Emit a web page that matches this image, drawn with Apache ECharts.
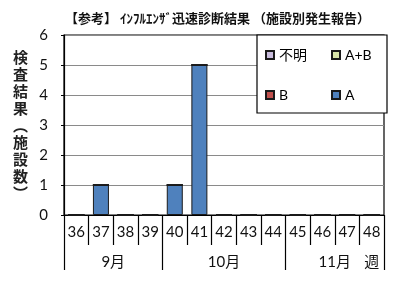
<!DOCTYPE html>
<html>
<head>
<meta charset="utf-8">
<script src="https://cdn.jsdelivr.net/npm/echarts@6/dist/echarts.min.js"></script>
<style>
  html, body { margin: 0; padding: 0; background: #fff; }
  #chart { width: 400px; height: 285px; }
</style>
</head>
<body>
<div id="chart"></div>
<script>
// Weekly rapid influenza test results (facilities reporting), weeks 36-48
const weeks = ['36', '37', '38', '39', '40', '41', '42', '43', '44', '45', '46', '47', '48'];
const unknownCounts = [0, 0, 0, 0, 0, 0, 0, 0, 0, 0, 0, 0, 0];
const abCounts      = [0, 0, 0, 0, 0, 0, 0, 0, 0, 0, 0, 0, 0];
const bCounts       = [0, 0, 0, 0, 0, 0, 0, 0, 0, 0, 0, 0, 0];
const aCounts       = [0, 1, 0, 0, 1, 5, 0, 0, 0, 0, 0, 0, 0];
const yTicks = [0, 1, 2, 3, 4, 5, 6];

// Month band under the week row: boundaries and label centres in week-slot units
const monthBoundaries = [0, 4, 9, 13];
const monthLabels = { 2: '9月', 6.5: '10月', 11: '11月', 12.5: '週' };

const FONT = 'Lato, "Noto Sans CJK JP", sans-serif';
const JP = '"Noto Sans CJK JP", sans-serif';

const chart = echarts.init(document.getElementById('chart'), null, { renderer: 'canvas' });

const barStyle = (color) => ({ color: color, borderColor: '#1a1a1a', borderWidth: 1 });

chart.setOption({
  animation: false,
  backgroundColor: '#fff',
  title: {
    text: '【参考】 ｲﾝﾌﾙｴﾝｻﾞ迅速診断結果 （施設別発生報告）',
    left: 60,
    top: 7,
    textStyle: { fontFamily: JP, fontSize: 13, fontWeight: 'bold', color: '#111' }
  },
  legend: {
    data: ['不明', 'A+B', 'B', 'A'],
    icon: 'rect',
    left: 257,
    top: 35,
    width: 110,
    itemGap: 22,
    itemWidth: 8,
    itemHeight: 8,
    padding: [11, 12, 9, 8],
    backgroundColor: '#fff',
    borderColor: '#000',
    borderWidth: 1.2,
    textStyle: { fontFamily: FONT, fontSize: 14, color: '#000', width: 30, lineHeight: 18, height: 18, overflow: 'none' }
  },
  grid: {
    left: 64, right: 16, top: 35, bottom: 70,
    show: true, borderColor: '#000', borderWidth: 1.2, backgroundColor: 'transparent'
  },
  xAxis: [
    {
      type: 'category',
      data: weeks,
      position: 'bottom',
      axisLine: { show: true, lineStyle: { color: '#000', width: 1.2 } },
      axisTick: { show: true, interval: 0, length: 30, lineStyle: { color: '#000', width: 1.2 } },
      axisLabel: { interval: 0, margin: 10, fontFamily: FONT, fontSize: 15, color: '#111' },
      splitLine: { show: false }
    },
    {
      type: 'value',
      min: 0,
      max: 13,
      position: 'bottom',
      offset: 30,
      axisLine: { show: false },
      axisTick: { show: true, customValues: monthBoundaries, length: 25, lineStyle: { color: '#000', width: 1.2 } },
      axisLabel: {
        customValues: Object.keys(monthLabels).map(Number),
        formatter: (v) => monthLabels[v] || '',
        margin: 10,
        fontFamily: FONT,
        fontSize: 15,
        color: '#111'
      },
      splitLine: { show: false }
    }
  ],
  yAxis: {
    type: 'value',
    min: yTicks[0],
    max: yTicks[yTicks.length - 1],
    interval: 1,
    name: '検\n査\n結\n果\n︵\n施\n設\n数\n︶',
    nameLocation: 'middle',
    nameRotate: 0,
    nameGap: 36,
    nameTextStyle: { fontFamily: JP, fontSize: 15, fontWeight: 'bold', color: '#222', lineHeight: 17, padding: [20, 0, 0, 0] },
    axisLine: { show: true, lineStyle: { color: '#000', width: 1.2 } },
    axisTick: { show: true, length: 3, lineStyle: { color: '#000' } },
    axisLabel: { margin: 16, fontFamily: FONT, fontSize: 15, color: '#111' },
    splitLine: { show: true, lineStyle: { color: '#8a8a8a', width: 1 } }
  },
  series: [
    { name: 'A', type: 'bar', stack: 'total', data: aCounts, barWidth: '65%', itemStyle: barStyle('#4F81BD') },
    { name: 'B', type: 'bar', stack: 'total', data: bCounts, barWidth: '65%', itemStyle: barStyle('#C0504D') },
    { name: 'A+B', type: 'bar', stack: 'total', data: abCounts, barWidth: '65%', itemStyle: barStyle('#D8E4A8') },
    { name: '不明', type: 'bar', stack: 'total', data: unknownCounts, barWidth: '65%', itemStyle: barStyle('#C9BCDD') }
  ]
});
</script>
</body>
</html>
